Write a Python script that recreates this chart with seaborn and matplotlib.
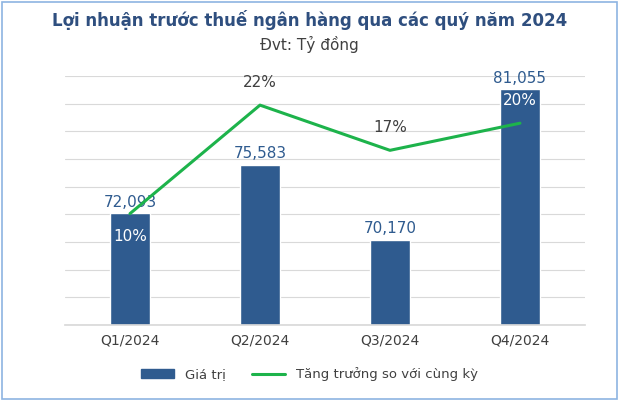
import matplotlib
matplotlib.use("Agg")
import matplotlib.pyplot as plt
import seaborn as sns
import pandas as pd
from matplotlib.lines import Line2D
from matplotlib.patches import Patch

quarters = ["Q1/2024", "Q2/2024", "Q3/2024", "Q4/2024"]
values = [72093, 75583, 70170, 81055]
growth = [10, 22, 17, 20]

sns.set_theme(style="white")
plt.rcParams['font.family'] = ['DejaVu Sans']
bar_c = "#2F5B8F"
line_c = "#1DB34B"
fig = plt.figure(figsize=(6.19, 4.01), dpi=100)
ax = fig.add_axes([0.105, 0.19, 0.84, 0.62])
df = pd.DataFrame({"q": quarters, "v": values})
sns.barplot(data=df, x="q", y="v", color=bar_c, width=0.31, saturation=1, ax=ax)
ax.set_ylim(64000, 82000)
ax.set_yticks(range(64000, 82001, 2000))
ax.yaxis.grid(True, color="#D9D9D9", lw=0.8)
ax.set_axisbelow(True)
ax.set_yticklabels([])
ax.set_xlabel(""); ax.set_ylabel("")
ax.tick_params(axis='x', labelsize=10, colors="#404040", pad=6)
for s in ax.spines.values(): s.set_visible(False)
ax.spines['bottom'].set_visible(True); ax.spines['bottom'].set_color("#D9D9D9")
for i, v in enumerate(values):
    ax.text(i, v + 250, f"{v:,}", ha="center", va="bottom", color=bar_c, fontsize=11)
ax2 = ax.twinx()
sns.lineplot(x=list(range(4)), y=growth, color=line_c, lw=2.2, ax=ax2)
ax2.set_ylim(-2.3, 25.2)
ax2.axis("off")
offs = [-2.5, 2.5, 2.5, 2.5]
for i, g in enumerate(growth):
    ax2.text(i, g + offs[i], f"{g}%", ha="center", va="center", color="#404040" if i in (1, 2) else "white", fontsize=11)
ax.set_xlim(-0.5, 3.5)
ax.tick_params(axis='both', length=0)
fig.text(0.5, 0.935, "Lợi nhuận trước thuế ngân hàng qua các quý năm 2024", ha="center", fontsize=12, fontweight="bold", color="#2F4F7F")
fig.text(0.5, 0.875, "Đvt: Tỷ đồng", ha="center", fontsize=11, color="#404040")
fig.legend(handles=[Patch(color=bar_c, label="Giá trị"), Line2D([], [], color=line_c, lw=2.2, label="Tăng trưởng so với cùng kỳ")],
           loc="lower center", bbox_to_anchor=(0.5, 0.02), ncol=2, frameon=False, fontsize=9.5,
           handlelength=2.5, handleheight=0.6, labelcolor="#404040")
fig.patches.append(plt.Rectangle((0.003, 0.005), 0.994, 0.99, transform=fig.transFigure, fill=False, ec="#8DB4E2", lw=1.2))
fig.savefig("out.png", dpi=100)
